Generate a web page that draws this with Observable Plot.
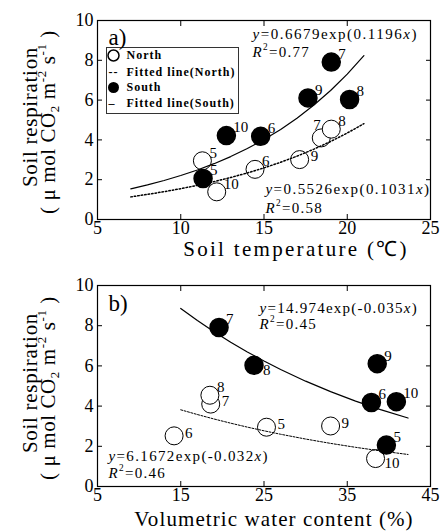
<!DOCTYPE html>
<html><head><meta charset="utf-8">
<script src="https://cdn.jsdelivr.net/npm/d3@7"></script>
<script src="https://cdn.jsdelivr.net/npm/@observablehq/plot@0.6"></script>
<style>
body{margin:0;background:#fff;}
#chart{width:440px;}
#chart svg{display:block;}
</style></head><body><div id="chart"></div>
<script>
// ---- data ----
const months = [5, 6, 7, 8, 9, 10];
const northResp = [2.95, 2.52, 4.10, 4.54, 3.01, 1.39];
const southResp = [2.06, 4.18, 7.91, 6.03, 6.11, 4.22];
const northTemp = [11.30, 14.46, 18.44, 19.04, 17.14, 12.16];
const southTemp = [11.34, 14.80, 19.04, 20.14, 17.64, 12.74];
const northVWC = [25.3, 14.2, 18.6, 18.5, 33.0, 38.4];
const southVWC = [39.7, 37.9, 19.6, 23.8, 38.6, 40.9];

const fitTempX = [7, 8, 9, 10, 11, 12, 13, 14, 15, 16, 17, 18, 19, 20, 21];
const fitTempSouth = [1.543, 1.739, 1.960, 2.209, 2.489, 2.805, 3.162, 3.564, 4.016, 4.527, 5.101, 5.750, 6.481, 7.304, 8.232];
const fitTempNorth = [1.137, 1.261, 1.398, 1.549, 1.718, 1.904, 2.111, 2.340, 2.595, 2.876, 3.189, 3.535, 3.919, 4.345, 4.816];
const fitVwcX = [15, 17, 19, 21, 23, 25, 27, 30, 33, 36, 39, 42.3];
const fitVwcSouth = [8.859, 8.260, 7.702, 7.180, 6.695, 6.243, 5.821, 5.240, 4.718, 4.248, 3.824, 3.406];
const fitVwcNorth = [3.816, 3.580, 3.358, 3.150, 2.954, 2.771, 2.599, 2.361, 2.145, 1.949, 1.771, 1.593];

const xTicksTemp = [5, 10, 15, 20, 25];
const xTicksVwc = [5, 15, 25, 35, 45];
const yTicks = [0, 2, 4, 6, 8, 10];

const yTitle1 = "Soil respiration";
const yTitle2 = "( μ mol CO_{2} m^{-2} s^{-1} )";
const xTitleA = "Soil temperature (℃)";
const xTitleB = "Volumetric water content (%)";
const legendLabels = ["North", "Fitted line(North)", "South", "Fitted line(South)"];

const eqA1 = "*y*=0.6679exp(0.1196*x*)", rA1 = "*R*^{2}=0.77";
const eqA2 = "*y*=0.5526exp(0.1031*x*)", rA2 = "*R*^{2}=0.58";
const eqB1 = "*y*=14.974exp(-0.035*x*)", rB1 = "*R*^{2}=0.45";
const eqB2 = "*y*=6.1672exp(-0.032*x*)", rB2 = "*R*^{2}=0.46";

// ---- helpers ----
const zip = (xs, ys, series) => xs.map((x, i) => ({x, y: ys[i], month: months[i], series}));
const fit = (xs, ys) => xs.map((x, i) => ({x, y: ys[i]}));

const placeOffsets = {ur: [7, -8], r: [11, -3], lr: [9, 5], ul: [-8, -13]};

function labelMarks(points, place) {
  const groups = {};
  for (const p of points) {
    const g = place[p.series + p.month] || "ur";
    (groups[g] = groups[g] || []).push(p);
  }
  return Object.entries(groups).map(([g, pts]) => Plot.text(pts, {
    x: "x", y: "y", text: d => String(d.month), dx: placeOffsets[g][0], dy: placeOffsets[g][1],
    textAnchor: "start", lineAnchor: "middle", fontSize: 15, fill: "black"
  }));
}

const at = (txt, o) => Plot.text([txt], {frameAnchor: "top-left", textAnchor: "start", lineAnchor: "bottom", fill: "black", text: d => d, ...o});

function panel(o) {
  const north = zip(o.northX, northResp, "N");
  const south = zip(o.southX, southResp, "S");
  return Plot.plot({
    width: 440, height: 266,
    marginLeft: 97, marginRight: 10, marginTop: o.mt, marginBottom: o.mb,
    x: {domain: o.xDomain},
    y: {domain: [0, 10]},
    style: {fontFamily: "'Liberation Serif', 'Times New Roman', serif", fontSize: "18px", color: "black", background: "white", overflow: "visible"},
    marks: [
      Plot.axisX({ticks: o.xTicks, tickSize: -5, tickPadding: 7, tickFormat: d => String(d), label: null, fontSize: 18}),
      Plot.axisX({anchor: "top", ticks: o.xTicks, tickSize: -5, tickFormat: () => "", label: null}),
      Plot.axisY({ticks: yTicks, tickSize: -5, tickPadding: 9, tickFormat: d => String(d), label: null, fontSize: 18}),
      Plot.axisY({anchor: "right", ticks: yTicks, tickSize: -5, tickFormat: () => "", label: null}),
      Plot.dot(north, {x: "x", y: "y", r: 9, fill: "white", stroke: "black", strokeWidth: 1}),
      Plot.dot(south, {x: "x", y: "y", r: 9, fill: "black", stroke: "black"}),
      Plot.line(fit(o.fitX, o.fitNorth), {x: "x", y: "y", stroke: "black", strokeWidth: o.northW, strokeDasharray: o.northDash}),
      Plot.line(fit(o.fitX, o.fitSouth), {x: "x", y: "y", stroke: "black", strokeWidth: 1.2}),
      ...labelMarks(north.concat(south), o.place),
      Plot.frame({stroke: "black", strokeWidth: 1.2}),
      ...o.extra,
      Plot.text([o.xTitle], {frameAnchor: "bottom", dx: o.xTitleDx, dy: o.xTitleDy, textAnchor: "middle", lineAnchor: "bottom", fontSize: 21, fill: "black", text: d => d}),
      Plot.text([yTitle1], {frameAnchor: "left", dx: -67, dy: -3, rotate: -90, textAnchor: "middle", lineAnchor: "middle", fontSize: 21, fill: "black", text: d => d}),
      Plot.text([yTitle2], {frameAnchor: "left", dx: -49, dy: 2, rotate: -90, textAnchor: "middle", lineAnchor: "middle", fontSize: 21, fill: "black", text: d => d})
    ]
  });
}

const legendMarks = [
  Plot.frame({stroke: "#333", strokeWidth: 1, insetLeft: 9, insetTop: 27, insetRight: 192, insetBottom: 106}),
  Plot.dot([0], {frameAnchor: "top-left", dx: 16, dy: 35, r: 5.5, fill: "white", stroke: "black"}),
  Plot.dot([0], {frameAnchor: "top-left", dx: 16, dy: 67, r: 5.5, fill: "black"}),
  at("--", {dx: 11, dy: 51.5, lineAnchor: "middle", fontSize: 12, fontWeight: "bold"}),
  at("–", {dx: 11, dy: 82.5, lineAnchor: "middle", fontSize: 12, fontWeight: "bold"}),
  ...legendLabels.map((t, i) => at(t, {dx: 29, dy: [35, 51.5, 67, 82.5][i], lineAnchor: "middle", fontSize: 12, fontWeight: "bold"}))
];

const plotA = panel({
  northX: northTemp, southX: southTemp, xDomain: [5, 25], xTicks: xTicksTemp, mt: 20, mb: 47,
  fitX: fitTempX, fitNorth: fitTempNorth, fitSouth: fitTempSouth, northW: 1.5, northDash: "1.5,2",
  place: {N9: "r", N7: "ul"}, xTitle: xTitleA, xTitleDx: 32, xTitleDy: 36,
  extra: [
    ...legendMarks,
    at("a)", {dx: 11, dy: 24, fontSize: 23}),
    at(eqA1, {dx: 155, dy: 18, fontSize: 15}),
    at(rA1, {dx: 155, dy: 36, fontSize: 15}),
    at(eqA2, {dx: 168, dy: 173, fontSize: 15}),
    at(rA2, {dx: 168, dy: 192, fontSize: 15})
  ]
});
const plotB = panel({
  northX: northVWC, southX: southVWC, xDomain: [5, 45], xTicks: xTicksVwc, mt: 19, mb: 46,
  fitX: fitVwcX, fitNorth: fitVwcNorth, fitSouth: fitVwcSouth, northW: 1, northDash: "2,1.5",
  place: {N5: "r", N6: "r", N7: "r", N9: "r", N10: "lr", S8: "lr"}, xTitle: xTitleB, xTitleDx: 10, xTitleDy: 39,
  extra: [
    at("b)", {dx: 11, dy: 25, fontSize: 23}),
    at(eqB1, {dx: 162, dy: 27, fontSize: 15}),
    at(rB1, {dx: 162, dy: 43, fontSize: 15}),
    at(eqB2, {dx: 11, dy: 175, fontSize: 15}),
    at(rB2, {dx: 11, dy: 192, fontSize: 15})
  ]
});

const root = document.getElementById("chart");
root.append(plotA, plotB);

// ---- rich text (italics, sub/superscripts) and letter spacing ----
function parseMarkup(s) {
  const segs = [], re = /\*([^*]+)\*|\^\{([^}]*)\}|_\{([^}]*)\}|([^*^_]+)/g;
  let m;
  while ((m = re.exec(s))) {
    if (m[1] != null) segs.push({t: m[1], italic: true, shift: 0});
    else if (m[2] != null) segs.push({t: m[2], shift: -1});
    else if (m[3] != null) segs.push({t: m[3], shift: 1});
    else segs.push({t: m[4], shift: 0});
  }
  return segs;
}
const spacingBySize = {"12": 1.0};
const spacingByText = {
  [eqA1]: 1.5, [eqA2]: 1.45, [eqB1]: 1.25, [eqB2]: 1.35, [rA1]: 1.3, [rA2]: 1.3, [rB1]: 1.3, [rB2]: 1.3,
  [xTitleA]: 2.3, [xTitleB]: 1.1, [yTitle1]: 0.7, [yTitle2]: 0.6
};
for (const svg of [plotA, plotB]) {
  d3.select(svg).selectAll("text").each(function() {
    const s = this.textContent;
    const fs = parseFloat(getComputedStyle(this).fontSize) || 15;
    const ls = spacingByText[s] != null ? spacingByText[s] : spacingBySize[String(fs)];
    if (ls != null) this.setAttribute("letter-spacing", ls);
    if (!/\*|\^\{|_\{/.test(s)) return;
    const el = d3.select(this).text(null);
    let prev = 0;
    for (const seg of parseMarkup(s)) {
      const shift = seg.shift < 0 ? -0.42 * fs : seg.shift > 0 ? 0.18 * fs : 0;
      const ts = el.append("tspan").text(seg.t).attr("dy", shift - prev);
      if (seg.italic) ts.attr("font-style", "italic");
      if (seg.shift) ts.attr("font-size", 0.62 * fs);
      prev = shift;
    }
  });
}
</script></body></html>
